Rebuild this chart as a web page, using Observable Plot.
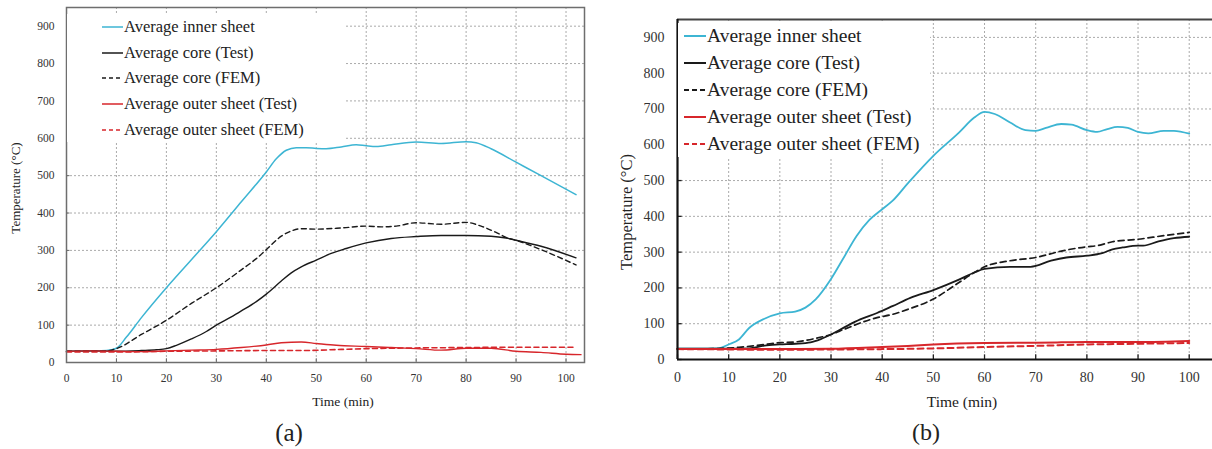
<!DOCTYPE html>
<html>
<head>
<meta charset="utf-8">
<script src="https://cdn.jsdelivr.net/npm/d3@7"></script>
<script src="https://cdn.jsdelivr.net/npm/@observablehq/plot@0.6"></script>
<style>
  html, body { margin: 0; padding: 0; background: #fff; }
  #wrap { position: relative; width: 1212px; height: 449px; overflow: hidden; background: #fff; font-family: "Liberation Serif", "Times New Roman", serif; color: #222; }
  .abs { position: absolute; white-space: nowrap; }
  .legend { position: absolute; background: #fff; }
  .row { display: flex; align-items: center; }
  .row svg { flex: none; }
</style>
</head>
<body>
<div id="wrap">
  <div id="pa" class="abs" style="left:0;top:0"></div>
  <div id="pb" class="abs" style="left:600px;top:0"></div>
</div>
<script>
// ---------- shared ----------
const xTicks = [0, 10, 20, 30, 40, 50, 60, 70, 80, 90, 100];
const yTicks = [0, 100, 200, 300, 400, 500, 600, 700, 800, 900];
const seriesNames = ["Average inner sheet", "Average core (Test)", "Average core (FEM)", "Average outer sheet (Test)", "Average outer sheet (FEM)"];
const seriesColors = ["#3db5d3", "#1a1a1a", "#1a1a1a", "#d7262b", "#d7262b"];
const seriesDashed = [false, false, true, false, true];

// ---------- panel (a) data ----------
const aInnerT = [0, 4, 8, 10, 12, 15, 20, 25, 30, 35, 40, 42, 44, 46, 48, 50, 52, 55, 58, 60, 62, 65, 70, 75, 80, 82, 85, 90, 95, 102];
const aInnerV = [30, 31, 32, 38, 68, 120, 200, 275, 350, 430, 510, 545, 568, 575, 575, 573, 572, 577, 583, 580, 578, 583, 590, 586, 591, 588, 572, 536, 500, 449];
const aCoreTestT = [0, 5, 10, 15, 18, 20, 22, 25, 28, 30, 33, 35, 38, 40, 43, 45, 47, 50, 53, 56, 60, 65, 70, 75, 80, 85, 88, 90, 95, 102];
const aCoreTestV = [30, 31, 30, 32, 34, 37, 46, 63, 83, 100, 122, 138, 163, 183, 218, 240, 256, 274, 292, 305, 320, 332, 337, 340, 340, 338, 333, 327, 311, 280];
const aCoreFemT = [0, 5, 8, 10, 15, 20, 25, 30, 35, 38, 40, 43, 45, 47, 50, 55, 60, 63, 66, 70, 75, 80, 83, 86, 88, 90, 95, 102];
const aCoreFemV = [30, 30, 31, 37, 75, 113, 158, 200, 248, 278, 302, 338, 352, 358, 357, 360, 365, 363, 365, 374, 370, 375, 365, 348, 335, 327, 302, 261];
const aOuterTestT = [0, 5, 10, 15, 20, 25, 30, 35, 40, 43, 47, 50, 54, 60, 65, 70, 75, 80, 85, 90, 95, 100, 103];
const aOuterTestV = [30, 31, 30, 29, 31, 33, 35, 40, 47, 53, 55, 51, 46, 43, 40, 37, 33, 38, 38, 30, 27, 22, 21];
const aOuterFemT = [0, 10, 20, 30, 40, 47, 55, 60, 70, 80, 90, 102];
const aOuterFemV = [28, 28, 30, 31, 32, 32, 35, 37, 39, 40, 41, 41];

// ---------- panel (b) data ----------
const bInnerT = [0, 4, 8, 10, 12, 14, 17, 20, 23, 25, 27, 30, 32.5, 35, 37.5, 40, 42, 45, 50, 55, 58, 60, 62, 65, 68, 70, 72, 75, 77, 80, 82, 84, 86, 88, 90, 92, 95, 97, 100];
const bInnerV = [30, 30, 31, 42, 56, 88, 114, 129, 134, 145, 168, 225, 285, 345, 390, 420, 443, 492, 569, 634, 676, 692, 686, 662, 641, 639, 647, 658, 656, 641, 636, 644, 650, 647, 636, 632, 639, 639, 631];
const bCoreTestT = [0, 5, 10, 14, 17, 20, 23, 26, 28, 30, 32.5, 35.7, 39, 42, 45.5, 50, 55, 58, 60, 65, 69, 73, 76, 80, 83, 85, 87, 90, 91, 94, 97, 100];
const bCoreTestV = [30, 30, 30, 31, 39, 42, 44, 48, 57, 70, 89, 112, 130, 149, 172, 194, 223, 243, 253, 259, 259, 276, 285, 290, 297, 308, 313, 318, 318, 330, 339, 343];
const bCoreFemT = [0, 5, 10, 12, 17, 20, 23, 27, 30, 32.5, 35.7, 39, 42, 45, 50, 55, 58, 60, 65, 70, 75, 80, 82, 85, 90, 95, 100];
const bCoreFemV = [30, 30, 32, 34, 42, 47, 49, 59, 70, 84, 102, 117, 126, 140, 169, 215, 243, 259, 276, 285, 303, 315, 318, 329, 336, 346, 355];
const bOuterTestT = [0, 10, 20, 30, 40, 45, 50, 60, 70, 75, 80, 90, 100];
const bOuterTestV = [29, 29, 29, 30, 35, 38, 42, 46, 47, 48, 49, 49, 52];
const bOuterFemT = [0, 10, 20, 30, 40, 50, 60, 70, 80, 90, 100];
const bOuterFemV = [29, 28, 27, 28, 29, 31, 35, 38, 42, 44, 46];

const aSeries = [[aInnerT, aInnerV], [aCoreTestT, aCoreTestV], [aCoreFemT, aCoreFemV], [aOuterTestT, aOuterTestV], [aOuterFemT, aOuterFemV]];
const bSeries = [[bInnerT, bInnerV], [bCoreTestT, bCoreTestV], [bCoreFemT, bCoreFemV], [bOuterTestT, bOuterTestV], [bOuterFemT, bOuterFemV]];

function lineMarks(series, widths, dash) {
  return series.map(([t, v], i) => Plot.line(v, {
    x: t, y: v, curve: "monotone-x",
    stroke: seriesColors[i], strokeWidth: widths[i],
    strokeDasharray: seriesDashed[i] ? dash : null
  }));
}

// ---------- panel (a) ----------
const plotA = Plot.plot({
  width: 600, height: 405,
  marginLeft: 66, marginRight: 16, marginTop: 7, marginBottom: 43,
  x: { domain: [0, 103.7] },
  y: { domain: [0, 950] },
  style: { fontFamily: "Liberation Serif, serif", fontSize: "11.5px", color: "#333", background: "transparent" },
  marks: [
    Plot.ruleX(xTicks.slice(1), { x: d => d, stroke: "#aaa", strokeDasharray: "2,2", strokeWidth: 1 }),
    Plot.ruleY(yTicks.slice(1), { y: d => d, stroke: "#aaa", strokeDasharray: "2,2", strokeWidth: 1 }),
    Plot.ruleX(xTicks, { x: d => d, y1: 0, y2: 10, stroke: "#666" }),
    Plot.ruleY(yTicks, { y: d => d, x1: 0, x2: 0.7, stroke: "#666" }),
    Plot.axisX({ ticks: xTicks, tickSize: 0, tickPadding: 11, label: null, tickFormat: d => d }),
    Plot.axisY({ ticks: yTicks, tickSize: 0, tickPadding: 12, label: null, tickFormat: d => d }),
    ...lineMarks(aSeries, [1.5, 1.4, 1.4, 1.4, 1.6], "5,3.5"),
    Plot.frame({ stroke: "#6e6e6e", strokeWidth: 1.5 })
  ]
});
document.getElementById("pa").appendChild(plotA);

// ---------- panel (b) ----------
const plotB = Plot.plot({
  width: 612, height: 409,
  marginLeft: 77, marginRight: 0, marginTop: 19, marginBottom: 50,
  x: { domain: [0, 104.55] },
  y: { domain: [0, 950] },
  style: { fontFamily: "Liberation Serif, serif", fontSize: "14px", color: "#333", background: "transparent" },
  marks: [
    Plot.ruleX(xTicks.slice(1), { x: d => d, stroke: "#aaa", strokeDasharray: "2,2", strokeWidth: 1 }),
    Plot.ruleY(yTicks.slice(1), { y: d => d, stroke: "#aaa", strokeDasharray: "2,2", strokeWidth: 1 }),
    Plot.ruleX(xTicks, { x: d => d, y1: 0, y2: 13, stroke: "#222", strokeWidth: 1.3 }),
    Plot.ruleY(yTicks, { y: d => d, x1: 0, x2: 0.9, stroke: "#222", strokeWidth: 1.3 }),
    Plot.axisX({ ticks: xTicks, tickSize: 0, tickPadding: 12.5, label: null, tickFormat: d => d }),
    Plot.axisY({ ticks: yTicks, tickSize: 0, tickPadding: 13, label: null, tickFormat: d => d }),
    ...lineMarks(bSeries, [1.8, 1.8, 1.7, 2, 2], "6,4"),
    Plot.ruleY([950], { stroke: "#444", strokeWidth: 2 }),
    Plot.ruleY([0], { stroke: "#111", strokeWidth: 2.2 }),
    Plot.ruleX([0], { stroke: "#111", strokeWidth: 2.2 })
  ]
});
document.getElementById("pb").appendChild(plotB);

// ---------- HTML text: legends, titles, captions ----------
const wrap = document.getElementById("wrap");
function addText(txt, cx, cy, size, rotate) {
  const d = document.createElement("div");
  d.className = "abs";
  d.textContent = txt;
  d.style.left = cx + "px";
  d.style.top = cy + "px";
  d.style.fontSize = size + "px";
  d.style.lineHeight = "1";
  d.style.transform = "translate(-50%,-50%)" + (rotate ? " rotate(-90deg)" : "");
  wrap.appendChild(d);
}
addText("Temperature (°C)", 15, 188, 13, true);
addText("Time (min)", 343, 402, 13.5, false);
addText("(a)", 289, 432, 25, false);
addText("Temperature (°C)", 627, 212, 16.5, true);
addText("Time (min)", 962, 402, 15.5, false);
addText("(b)", 926, 432, 24, false);

function addLegend(left, top, width, rowH, padLeft, swW, fontSize, lw, dash) {
  const box = document.createElement("div");
  box.className = "legend";
  box.style.left = left + "px";
  box.style.top = top + "px";
  box.style.width = width + "px";
  box.style.paddingLeft = padLeft + "px";
  box.style.boxSizing = "border-box";
  seriesNames.forEach((name, i) => {
    const r = document.createElement("div");
    r.className = "row";
    r.style.height = rowH + "px";
    r.style.fontSize = fontSize + "px";
    const ns = "http://www.w3.org/2000/svg";
    const s = document.createElementNS(ns, "svg");
    s.setAttribute("width", swW); s.setAttribute("height", 6);
    const l = document.createElementNS(ns, "line");
    l.setAttribute("x1", 0); l.setAttribute("x2", swW);
    l.setAttribute("y1", 3); l.setAttribute("y2", 3);
    l.setAttribute("stroke", seriesColors[i]);
    l.setAttribute("stroke-width", lw);
    if (seriesDashed[i]) l.setAttribute("stroke-dasharray", dash);
    s.appendChild(l);
    const t = document.createElement("span");
    t.textContent = name;
    t.style.marginLeft = "1px";
    r.appendChild(s); r.appendChild(t);
    box.appendChild(r);
  });
  wrap.appendChild(box);
}
addLegend(67, 14, 277, 25.7, 35, 21, 16.5, 1.5, "4,3");
addLegend(678, 23, 252, 26.8, 6, 22, 19.5, 2, "5,3");
</script>
</body>
</html>
